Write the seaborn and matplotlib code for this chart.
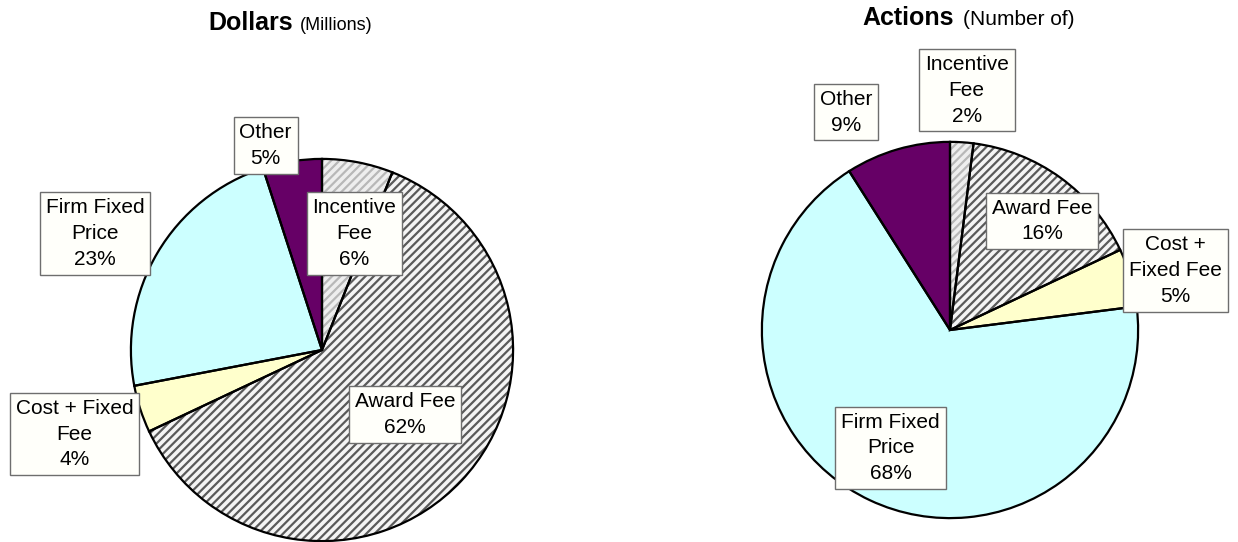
import numpy as np
import matplotlib
matplotlib.use("Agg")
import matplotlib.pyplot as plt
import seaborn as sns

# Contract type shares (percent)
categories = ["Incentive Fee", "Award Fee", "Cost + Fixed Fee", "Firm Fixed Price", "Other"]
dollars_pct = [6, 62, 4, 23, 5]
actions_pct = [2, 16, 5, 68, 9]
dollars_labels = ["Incentive\nFee", "Award Fee", "Cost + Fixed\nFee", "Firm Fixed\nPrice", "Other"]
actions_labels = ["Incentive\nFee", "Award Fee", "Cost +\nFixed Fee", "Firm Fixed\nPrice", "Other"]

sns.set_theme(style="white")
plt.rcParams["font.family"] = ["Liberation Sans", "DejaVu Sans"]
plt.rcParams["text.color"] = "black"
plt.rcParams["hatch.linewidth"] = 1.6

faces = ["#eeeeee", "#f4f4f4", "#ffffcc", "#ccffff", "#660066"]
hatches = ["////", "////", None, None, None]
hatch_cols = ["#b8b8b8", "#5a5a5a", "#ffffcc", "#ccffff", "#660066"]

# label offsets in units of pie radius
dollars_pos = [(0.17, 0.61), (0.435, -0.337), (-1.295, -0.44), (-1.187, 0.61), (-0.295, 1.07)]
actions_pos = [(0.089, 1.274), (0.489, 0.579), (1.20, 0.316), (-0.316, -0.626), (-0.553, 1.158)]

fig = plt.figure(figsize=(12.38, 5.42), dpi=100)
W, H = 1238, 542


def pie_axes(cx, cy, r):
    return fig.add_axes([(cx - r) / W, (H - cy - r) / H, 2 * r / W, 2 * r / H])


def draw_pie(ax, values, labels, positions):
    # hatched fill layer
    wedges, _ = ax.pie(values, startangle=90, counterclock=False, radius=1,
                       colors=faces, wedgeprops=dict(linewidth=0))
    for w, h, hc in zip(wedges, hatches, hatch_cols):
        w.set_edgecolor(hc)
        if h:
            w.set_hatch(h)
    # outline layer
    ax.pie(values, startangle=90, counterclock=False, radius=1,
           colors=["none"] * len(values),
           wedgeprops=dict(linewidth=1.6, edgecolor="black"))
    for lab, v, (dx, dy) in zip(labels, values, positions):
        ax.text(dx, dy, f"{lab}\n{v}%", ha="center", va="center", fontsize=15,
                linespacing=1.45, color="black", zorder=5,
                bbox=dict(boxstyle="square,pad=0.28", fc="#fffffa", ec="#6e6e6e", lw=1.0))
    ax.set_xlim(-1.01, 1.01)
    ax.set_ylim(-1.01, 1.01)
    ax.set_aspect("equal")
    ax.axis("off")


ax1 = pie_axes(322, 350, 193)
draw_pie(ax1, dollars_pct, dollars_labels, dollars_pos)
ax2 = pie_axes(950, 330, 190)
draw_pie(ax2, actions_pct, actions_labels, actions_pos)

# titles
fig.text(208 / W, 1 - 30 / H, "Dollars", fontsize=18, fontweight="bold", va="baseline", ha="left")
fig.text(300 / W, 1 - 30 / H, "(Millions)", fontsize=13, va="baseline", ha="left")
fig.text(862 / W, 1 - 25 / H, "Actions", fontsize=18, fontweight="bold", va="baseline", ha="left")
fig.text(963 / W, 1 - 25 / H, "(Number of)", fontsize=15, va="baseline", ha="left")

fig.savefig("out.png", dpi=100)
